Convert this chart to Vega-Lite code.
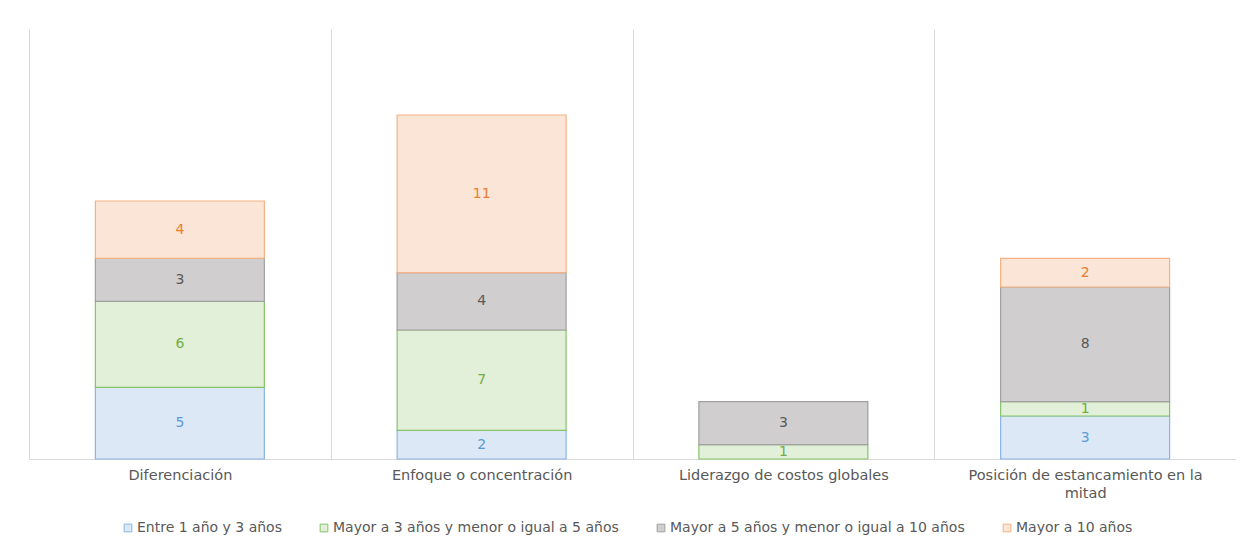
{
  "$schema": "https://vega.github.io/schema/vega-lite/v6.json",
  "width": 1207,
  "height": 430,
  "padding": {"left": 29, "top": 29, "right": 0, "bottom": 0},
  "background": "white",
  "config": {
    "view": {"stroke": null},
    "font": "DejaVu Sans"
  },
  "data": {
    "values": [
      {"estrategia": "Diferenciación", "antiguedad": "Entre 1 año y 3 años", "orden": 1, "empresas": 5},
      {"estrategia": "Diferenciación", "antiguedad": "Mayor a 3 años y menor o igual a 5 años", "orden": 2, "empresas": 6},
      {"estrategia": "Diferenciación", "antiguedad": "Mayor a 5 años y menor o igual a 10 años", "orden": 3, "empresas": 3},
      {"estrategia": "Diferenciación", "antiguedad": "Mayor a 10 años", "orden": 4, "empresas": 4},
      {"estrategia": "Enfoque o concentración", "antiguedad": "Entre 1 año y 3 años", "orden": 1, "empresas": 2},
      {"estrategia": "Enfoque o concentración", "antiguedad": "Mayor a 3 años y menor o igual a 5 años", "orden": 2, "empresas": 7},
      {"estrategia": "Enfoque o concentración", "antiguedad": "Mayor a 5 años y menor o igual a 10 años", "orden": 3, "empresas": 4},
      {"estrategia": "Enfoque o concentración", "antiguedad": "Mayor a 10 años", "orden": 4, "empresas": 11},
      {"estrategia": "Liderazgo de costos globales", "antiguedad": "Mayor a 3 años y menor o igual a 5 años", "orden": 2, "empresas": 1},
      {"estrategia": "Liderazgo de costos globales", "antiguedad": "Mayor a 5 años y menor o igual a 10 años", "orden": 3, "empresas": 3},
      {"estrategia": "Posición de estancamiento en la mitad", "antiguedad": "Entre 1 año y 3 años", "orden": 1, "empresas": 3},
      {"estrategia": "Posición de estancamiento en la mitad", "antiguedad": "Mayor a 3 años y menor o igual a 5 años", "orden": 2, "empresas": 1},
      {"estrategia": "Posición de estancamiento en la mitad", "antiguedad": "Mayor a 5 años y menor o igual a 10 años", "orden": 3, "empresas": 8},
      {"estrategia": "Posición de estancamiento en la mitad", "antiguedad": "Mayor a 10 años", "orden": 4, "empresas": 2}
    ]
  },
  "encoding": {
    "x": {
      "field": "estrategia",
      "type": "nominal",
      "sort": null,
      "scale": {"paddingInner": 0, "paddingOuter": 0},
      "axis": {
        "title": null,
        "labelAngle": 0,
        "labelFontSize": 14.5,
        "labelColor": "#595959",
        "labelPadding": 9,
        "labelLineHeight": 18,
        "labelLimit": 400,
        "labelExpr": "datum.label == 'Posición de estancamiento en la mitad' ? ['Posición de estancamiento en la', 'mitad'] : datum.label",
        "ticks": false,
        "tickBand": "extent",
        "grid": true,
        "gridColor": "#d9d9d9",
        "gridWidth": 1,
        "domainColor": "#d9d9d9"
      }
    },
    "y": {
      "field": "empresas",
      "type": "quantitative",
      "stack": "zero",
      "scale": {"domain": [0, 30], "nice": false},
      "axis": null
    },
    "order": {"field": "orden", "type": "quantitative"}
  },
  "layer": [
    {
      "mark": {"type": "bar", "strokeWidth": 1.2, "width": {"band": 0.56}},
      "encoding": {
        "fill": {
          "field": "antiguedad",
          "type": "nominal",
          "scale": {
            "domain": ["Entre 1 año y 3 años", "Mayor a 3 años y menor o igual a 5 años", "Mayor a 5 años y menor o igual a 10 años", "Mayor a 10 años"],
            "range": ["#dce8f5", "#e2efd9", "#d0cece", "#fbe5d6"]
          },
          "legend": {
            "title": null,
            "orient": "none",
            "direction": "horizontal",
            "legendX": 92,
            "legendY": 492,
            "symbolType": "square",
            "symbolSize": 60,
            "symbolStrokeWidth": 1,
            "labelFontSize": 14,
            "labelColor": "#595959",
            "labelOffset": 2,
            "labelLimit": 400,
            "columnPadding": 35
          }
        },
        "stroke": {
          "field": "antiguedad",
          "type": "nominal",
          "scale": {
            "domain": ["Entre 1 año y 3 años", "Mayor a 3 años y menor o igual a 5 años", "Mayor a 5 años y menor o igual a 10 años", "Mayor a 10 años"],
            "range": ["#8ab6e6", "#86c46a", "#a0a0a0", "#f4b183"]
          },
          "legend": {
            "title": null,
            "orient": "none",
            "direction": "horizontal",
            "legendX": 92,
            "legendY": 492,
            "symbolType": "square",
            "symbolSize": 60,
            "symbolStrokeWidth": 1,
            "labelFontSize": 14,
            "labelColor": "#595959",
            "labelOffset": 2,
            "labelLimit": 400,
            "columnPadding": 35
          }
        }
      }
    },
    {
      "mark": {"type": "text", "fontSize": 14, "baseline": "middle"},
      "encoding": {
        "y": {
          "field": "empresas",
          "type": "quantitative",
          "stack": "zero",
          "bandPosition": 0.5
        },
        "text": {"field": "empresas", "type": "quantitative"},
        "color": {
          "field": "antiguedad",
          "type": "nominal",
          "scale": {
            "domain": ["Entre 1 año y 3 años", "Mayor a 3 años y menor o igual a 5 años", "Mayor a 5 años y menor o igual a 10 años", "Mayor a 10 años"],
            "range": ["#5b9bd5", "#70ad47", "#595959", "#ed7d31"]
          },
          "legend": null
        }
      }
    }
  ]
}
